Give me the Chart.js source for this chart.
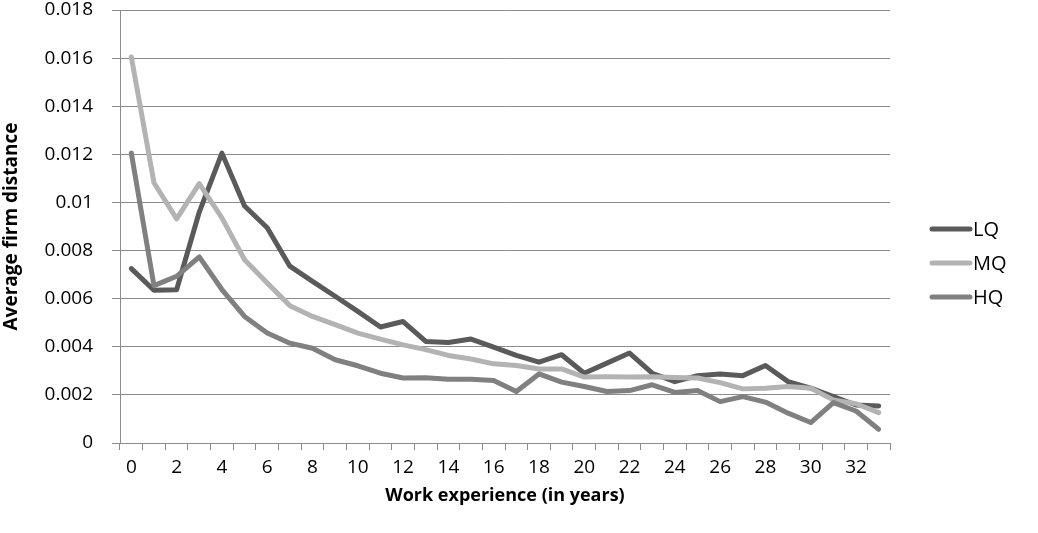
<!DOCTYPE html>
<html>
<head>
<meta charset="utf-8">
<script src="https://cdn.jsdelivr.net/npm/chart.js@4.4.1/dist/chart.umd.min.js"></script>
<style>
  html, body { margin: 0; padding: 0; background: #fff; }
  #wrap { width: 1038px; height: 533px; }
</style>
</head>
<body>
<div id="wrap"><canvas id="chart" width="1038" height="533"></canvas></div>
<script>
const years = Array.from({ length: 34 }, (_, i) => String(i));

const lq = [0.00725, 0.00635, 0.00637, 0.0096, 0.01205, 0.00985, 0.00895, 0.00735, 0.00672, 0.0061,
  0.00547, 0.00482, 0.00505, 0.00422, 0.00418, 0.00432, 0.00399, 0.00364, 0.00336, 0.00367,
  0.0029, 0.00332, 0.00374, 0.0029, 0.00255, 0.0028, 0.00287, 0.0028, 0.00322, 0.00255,
  0.00228, 0.00193, 0.00158, 0.00154];

const mq = [0.01605, 0.01082, 0.00932, 0.01078, 0.00936, 0.00762, 0.00665, 0.00571, 0.00526, 0.00492,
  0.00457, 0.00432, 0.00408, 0.00388, 0.00364, 0.00349, 0.00329, 0.00322, 0.00308, 0.00308,
  0.00274, 0.00275, 0.00274, 0.00275, 0.00272, 0.0027, 0.00251, 0.00225, 0.00228, 0.00235,
  0.00228, 0.00179, 0.00163, 0.00126];

const hq = [0.01205, 0.00654, 0.00693, 0.00774, 0.00638, 0.00526, 0.00457, 0.00415, 0.00394, 0.00346,
  0.00321, 0.0029, 0.0027, 0.00271, 0.00265, 0.00265, 0.0026, 0.00214, 0.00287, 0.00253,
  0.00235, 0.00214, 0.00218, 0.00242, 0.0021, 0.00218, 0.00172, 0.00193, 0.0017, 0.00124,
  0.00085, 0.00168, 0.00133, 0.00057];

const seriesNames = ['LQ', 'MQ', 'HQ'];
const seriesColors = ['#5a5a5a', '#b3b3b3', '#808080'];

const fontFamily = '"Open Sans", "DejaVu Sans", sans-serif';
const gridColor = '#8c8c8c';

// legend drawn by hand, Excel style: short line + label to the right
const sideLegend = {
  id: 'sideLegend',
  afterDraw(chart) {
    const ctx = chart.ctx;
    ctx.save();
    ctx.font = '20px ' + fontFamily;
    ctx.textBaseline = 'middle';
    ctx.fillStyle = '#000';
    seriesNames.forEach((name, i) => {
      const y = 229 + i * 34;
      ctx.strokeStyle = seriesColors[i];
      ctx.lineWidth = 5;
      ctx.lineCap = 'round';
      ctx.beginPath();
      ctx.moveTo(932, y);
      ctx.lineTo(970, y);
      ctx.stroke();
      ctx.fillText(name, 973, y + 1);
    });
    ctx.restore();
  }
};

function makeSet(label, data, i) {
  return {
    label: label,
    data: data,
    borderColor: seriesColors[i],
    backgroundColor: seriesColors[i],
    borderWidth: 5,
    borderJoinStyle: 'round',
    borderCapStyle: 'round',
    pointRadius: 0,
    tension: 0,
    order: 2 - i
  };
}

new Chart(document.getElementById('chart'), {
  type: 'line',
  data: {
    labels: years,
    datasets: [makeSet('LQ', lq, 0), makeSet('MQ', mq, 1), makeSet('HQ', hq, 2)]
  },
  options: {
    responsive: false,
    animation: false,
    layout: { padding: { top: 10, right: 148, bottom: 26, left: 0 } },
    plugins: {
      legend: { display: false },
      tooltip: { enabled: false }
    },
    scales: {
      x: {
        type: 'category',
        offset: true,
        grid: {
          offset: true,
          drawOnChartArea: false,
          color: gridColor,
          tickLength: 7
        },
        border: { color: gridColor },
        ticks: {
          autoSkip: false,
          maxRotation: 0,
          padding: 6,
          color: '#000',
          font: { family: fontFamily, size: 19 },
          callback: function (value, index) {
            return index % 2 === 0 ? this.getLabelForValue(value) : '';
          }
        },
        title: {
          display: true,
          text: 'Work experience (in years)',
          color: '#000',
          font: { family: fontFamily, size: 18, weight: 'bold' },
          padding: { top: 4, bottom: 0 }
        },
        afterFit(scale) { scale.height = 64; }
      },
      y: {
        min: 0,
        max: 0.018,
        grid: { color: gridColor, tickLength: 8 },
        border: { color: gridColor },
        ticks: {
          stepSize: 0.002,
          padding: 19,
          color: '#000',
          font: { family: fontFamily, size: 19 },
          callback: (v) => String(Number(v.toFixed(3)))
        },
        title: {
          display: true,
          text: 'Average firm distance',
          color: '#000',
          font: { family: fontFamily, size: 19, weight: 'bold' },
          padding: { top: 0, bottom: 0 }
        },
        afterFit(scale) {
          scale.width = 120;
          // tick padding would otherwise push the plot down
          scale.paddingTop = 0;
          scale.paddingBottom = 0;
        }
      }
    }
  },
  plugins: [sideLegend]
});
</script>
</body>
</html>
